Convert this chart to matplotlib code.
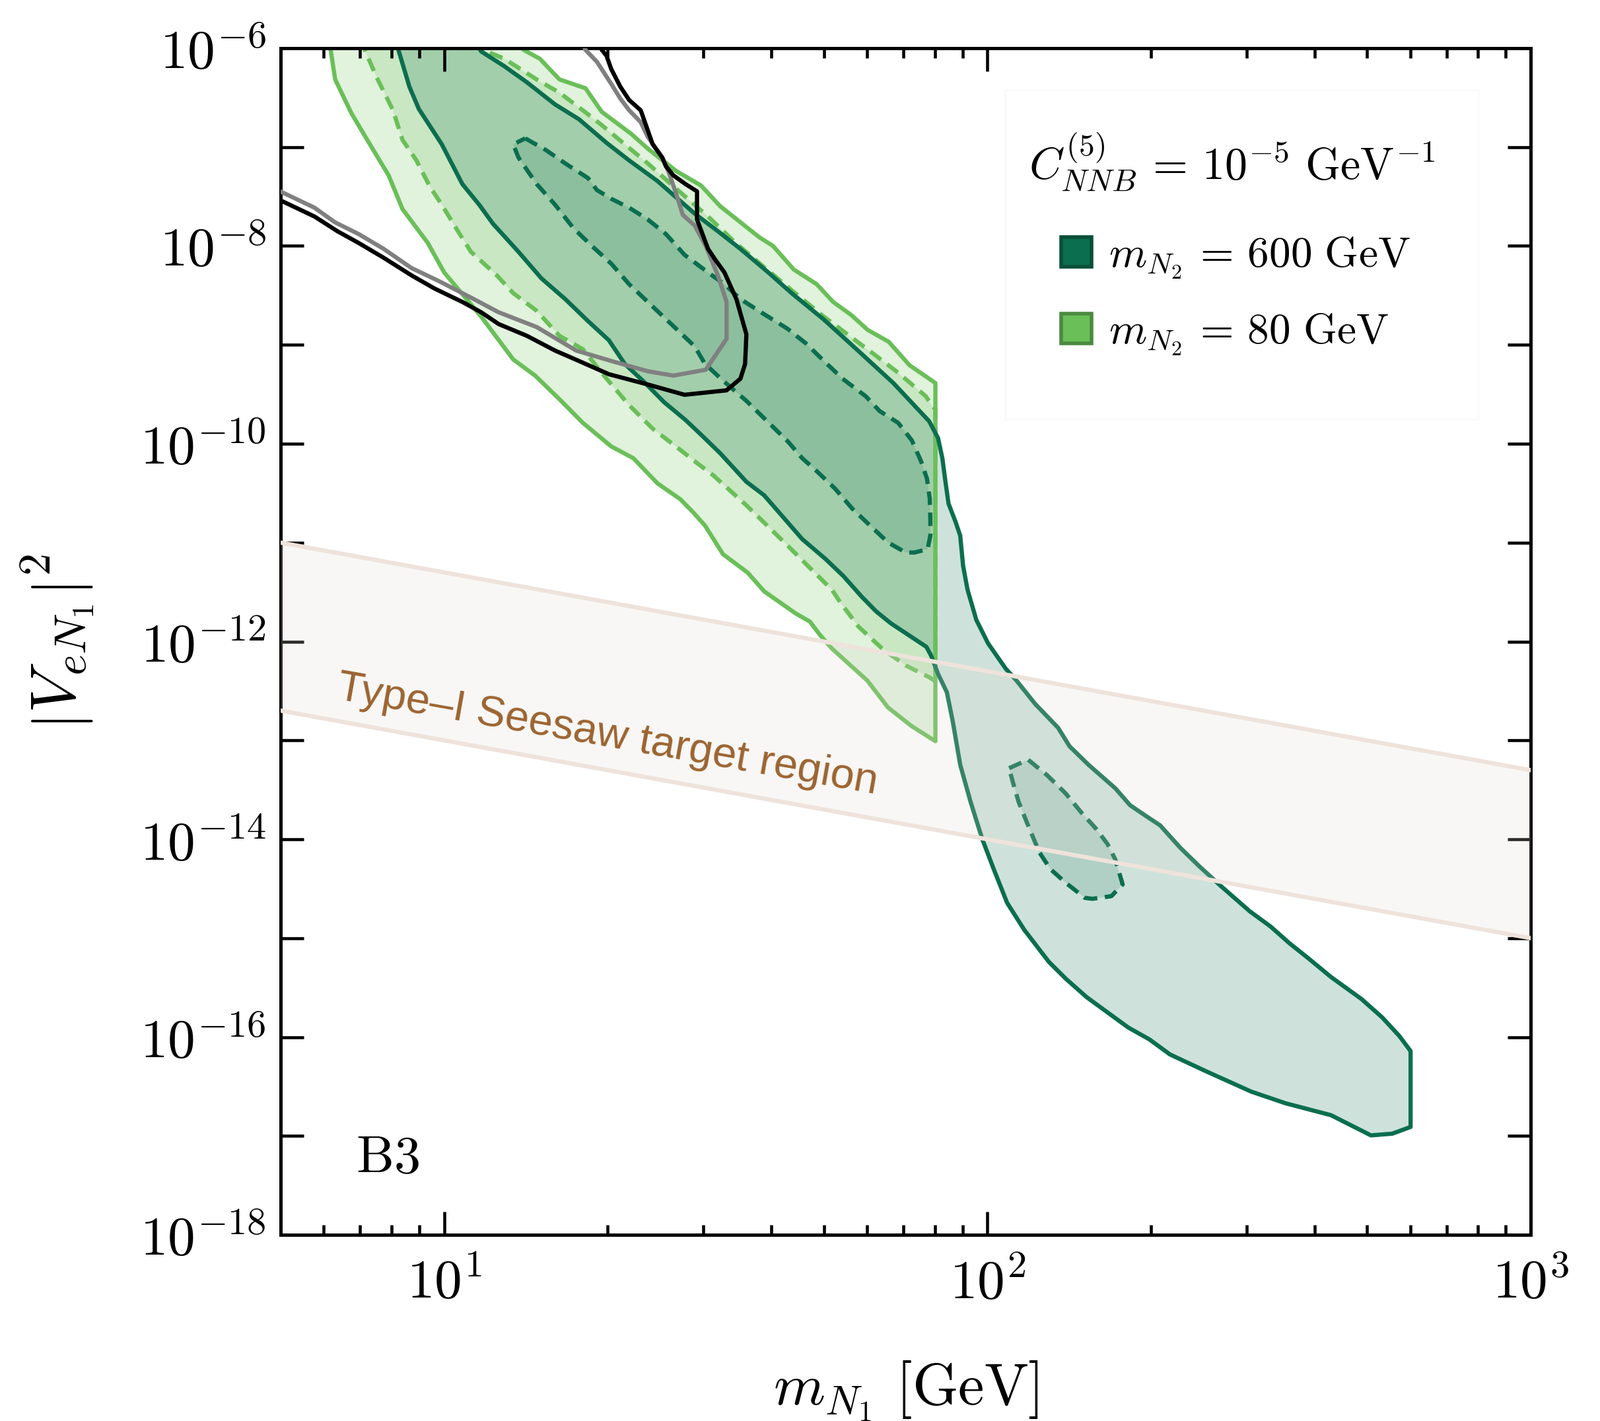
import numpy as np
import matplotlib
matplotlib.use('Agg')
import matplotlib.pyplot as plt
from matplotlib.patches import Patch, Rectangle
from matplotlib.ticker import FixedLocator, FuncFormatter, NullLocator, NullFormatter

plt.rcParams['mathtext.fontset'] = 'cm'
plt.rcParams['font.family'] = ['DejaVu Serif']

# ---------------- data (m_N1 in GeV, log10 |V_eN1|^2) ----------------
# m_N2 = 80 GeV, outer (solid) contour
m80_out_x = [6.1, 6.18, 6.30, 6.75, 7.38, 7.90, 8.38, 9.33, 10.0, 11.7, 13.4, 14.7, 16.3, 18.0,
             20.3, 22.3, 24.7, 27.2, 28.7, 30.2, 32.6, 36.2, 38.8, 44.3, 47.1, 49.2, 51.7, 60.1,
             65.6, 72.5, 80.2, 80.2, 71.9, 65.8, 60.2, 56.2, 52.0, 48.5, 44.0, 40.3, 38.0, 32.2,
             29.7, 26.7, 23.7, 22.1, 19.5, 18.2, 16.3, 15.0, 14.0, 13.6]
m80_out_ly = [-5.9, -6.017, -6.316, -6.659, -7.016, -7.285, -7.627, -7.970, -8.268, -8.715,
              -9.148, -9.311, -9.550, -9.789, -10.027, -10.147, -10.401, -10.561, -10.691,
              -10.827, -11.117, -11.304, -11.492, -11.714, -11.798, -11.935, -12.070, -12.395,
              -12.667, -12.855, -13.008, -9.386, -9.207, -8.969, -8.849, -8.700, -8.566, -8.387,
              -8.238, -8.000, -7.911, -7.597, -7.389, -7.240, -7.016, -6.867, -6.644, -6.405,
              -6.316, -6.107, -6.017, -5.9]

# m_N2 = 80 GeV, inner (dashed) contour
m80_in_x = [7.1, 7.16, 7.52, 8.05, 8.38, 8.89, 9.42, 9.90, 10.6, 11.2, 12.0, 12.5, 13.4, 14.8,
            16.3, 18.0, 19.9, 21.9, 24.2, 26.7, 28.9, 31.3, 33.8, 36.0, 39.3, 42.9, 47.4, 51.7,
            53.7, 57.9, 64.0, 70.7, 78.1, 80.2, 80.2, 79.3, 77.0, 68.5, 62.1, 56.2, 50.0, 43.6,
            38.7, 34.4, 30.6, 26.7, 23.7, 21.5, 19.5, 18.0, 16.3, 14.8, 12.9, 11.8, 11.3]
m80_in_ly = [-5.9, -6.033, -6.300, -6.628, -6.927, -7.135, -7.404, -7.583, -7.851, -8.059,
             -8.209, -8.298, -8.477, -8.656, -8.909, -9.044, -9.342, -9.610, -9.848, -10.027,
             -10.176, -10.321, -10.487, -10.623, -10.827, -11.032, -11.270, -11.475, -11.611,
             -11.850, -12.071, -12.242, -12.361, -12.40, -9.65, -9.625, -9.520, -9.282, -9.103,
             -8.924, -8.715, -8.447, -8.209, -7.970, -7.702, -7.418, -7.165, -6.972, -6.778,
             -6.628, -6.450, -6.316, -6.107, -6.017, -5.9]

# m_N2 = 600 GeV, outer (solid) contour
m600_out_x = [8.0, 8.13, 8.63, 8.98, 9.90, 10.8, 11.6, 12.3, 13.7, 15.1, 16.7, 18.4, 20.1, 21.5,
              23.3, 25.4, 27.8, 29.7, 32.2, 36.0, 38.8, 41.8, 45.6, 50.4, 54.3, 58.6, 62.4, 66.4,
              71.6, 77.2, 78.7, 81.1, 84.2, 86.3, 89.1, 93.1, 97.8, 102.7, 108.7, 116.9, 129.7,
              139.4, 152.3, 166.4, 181.7, 198.6, 216.8, 252.6, 278, 306, 354, 429, 508, 556, 601,
              601, 573, 533, 488, 429, 390, 360, 332, 304, 269, 245, 226, 208, 195, 183, 172,
              153.5, 141.6, 134.9, 122.5, 113.1, 108.1, 100.3, 95.4, 91.9, 90.2, 89.1, 87.4, 84.8,
              83.7, 82.6, 81.1, 78.1, 67.1, 57.4, 50.0, 43.6, 39.5, 35.1, 31.9, 28.9, 24.7, 21.9,
              19.9, 17.7, 16.0, 14.2, 12.9, 11.7, 11.3]
m600_out_ly = [-5.9, -5.913, -6.390, -6.614, -6.972, -7.374, -7.583, -7.776, -8.059, -8.328,
               -8.537, -8.760, -8.954, -9.193, -9.372, -9.580, -9.759, -9.908, -10.095, -10.385,
               -10.521, -10.725, -10.964, -11.168, -11.338, -11.543, -11.696, -11.816, -11.935,
               -12.054, -12.139, -12.327, -12.514, -12.803, -13.247, -13.621, -13.996, -14.302,
               -14.643, -14.916, -15.239, -15.410, -15.597, -15.751, -15.904, -16.023, -16.176,
               -16.346, -16.449, -16.552, -16.670, -16.790, -16.994, -16.977, -16.909, -16.142,
               -15.989, -15.802, -15.615, -15.393, -15.205, -15.053, -14.882, -14.728, -14.473,
               -14.269, -14.081, -13.860, -13.758, -13.655, -13.485, -13.247, -13.059, -12.872,
               -12.633, -12.395, -12.276, -12.020, -11.782, -11.475, -11.236, -10.930, -10.793,
               -10.606, -10.385, -10.146, -9.942, -9.772, -9.386, -9.044, -8.745, -8.477, -8.268,
               -8.030, -7.851, -7.672, -7.344, -7.135, -6.957, -6.718, -6.569, -6.345, -6.182,
               -6.033, -5.9]

# m_N2 = 600 GeV, inner (dashed) contour, low-mass lobe
m600_in_x = [14.1, 15.4, 16.7, 18.4, 19.1, 20.3, 21.9, 23.7, 25.6, 27.7, 30.6, 32.8, 35.1, 38.7,
             42.8, 46.3, 50.0, 54.1, 59.7, 63.3, 68.5, 72.6, 75.5, 77.4, 78.3, 78.5, 78.5, 77.6,
             73.4, 70.7, 65.6, 60.8, 56.4, 52.4, 48.6, 45.6, 42.9, 39.3, 36.0, 32.6, 30.2, 28.9,
             26.7, 23.7, 21.9, 20.3, 18.7, 17.3, 16.0, 14.8, 13.7, 13.4]
m600_in_ly = [-6.912, -7.031, -7.165, -7.314, -7.434, -7.523, -7.613, -7.732, -7.880, -8.090,
              -8.268, -8.387, -8.537, -8.686, -8.835, -8.984, -9.163, -9.342, -9.520, -9.669,
              -9.789, -9.967, -10.180, -10.354, -10.554, -10.759, -10.930, -11.066, -11.100,
              -11.100, -10.998, -10.827, -10.657, -10.453, -10.282, -10.146, -9.976, -9.772,
              -9.567, -9.362, -9.192, -9.014, -8.835, -8.566, -8.387, -8.179, -8.000, -7.821,
              -7.583, -7.374, -7.106, -6.972]

# m_N2 = 600 GeV, inner (dashed) contour, high-mass island
m600_isl_x = [109.6, 118.8, 128.6, 139.3, 148.6, 158.5, 166.3, 171.8, 177.4, 169.1, 156.0, 151.1,
              139.3, 130.6, 124.6, 118.8, 114.1, 111.3]
m600_isl_ly = [-13.281, -13.195, -13.349, -13.536, -13.724, -13.894, -14.047, -14.200, -14.456,
               -14.575, -14.602, -14.592, -14.439, -14.302, -14.132, -13.860, -13.621, -13.417]

# existing bounds (black and grey curves)
black_x = [5.0, 5.77, 6.36, 6.96, 7.74, 8.71, 9.61, 10.8, 11.7, 12.6, 14.2, 16.0, 17.7, 20.1,
           23.7, 27.7, 33.1, 35.1, 35.8, 36.0, 34.5, 32.8, 31.5, 30.6, 29.2, 29.2, 27.8, 26.4,
           25.6, 25.2, 24.2, 23.0, 21.9, 21.1, 20.3, 19.9, 19.5, 19.2]
black_ly = [-7.54, -7.702, -7.851, -7.970, -8.120, -8.298, -8.432, -8.566, -8.671, -8.790,
            -8.909, -9.058, -9.163, -9.297, -9.401, -9.505, -9.460, -9.342, -9.193, -8.894,
            -8.537, -8.268, -8.134, -8.030, -7.732, -7.448, -7.374, -7.285, -7.195, -7.106,
            -6.972, -6.628, -6.524, -6.390, -6.211, -6.077, -6.017, -5.9]
grey_x = [5.0, 5.77, 6.30, 6.96, 7.74, 8.71, 9.80, 11.2, 12.6, 14.8, 17.5, 20.3, 23.7, 26.4,
          30.3, 33.1, 33.1, 31.9, 30.3, 28.9, 27.5, 26.7, 25.9, 25.2, 23.7, 23.0, 21.9, 21.1,
          20.3, 19.1, 18.2, 17.8]
grey_ly = [-7.45, -7.613, -7.762, -7.880, -8.030, -8.224, -8.358, -8.522, -8.671, -8.820,
           -9.058, -9.163, -9.267, -9.311, -9.252, -8.939, -8.566, -8.298, -8.000, -7.792,
           -7.687, -7.463, -7.255, -7.106, -6.897, -6.748, -6.628, -6.510, -6.361, -6.137,
           -6.017, -5.9]

# Type-I seesaw band: |V|^2 = m_nu / m_N
seesaw_mnu = [1e-12, 5e-11]  # GeV
mN_range = [5.0, 1000.0]

DARK = '#0b6e4f'
LIGHT = '#6abf59'

fig = plt.figure(figsize=(12.115, 10.76), dpi=200)
ax = fig.add_axes([0.1754, 0.1310, 0.7813, 0.8351])
ax.set_xscale('log')
ax.set_yscale('log')


def arr(xs, lys):
    return np.asarray(xs, float), 10.0 ** np.asarray(lys, float)


def closed(x, y):
    return np.append(x, x[0]), np.append(y, y[0])


dash = (0, (3.2, 1.8))
lw = 2.3

x, y = arr(m80_out_x, m80_out_ly)
ax.fill(x, y, facecolor=LIGHT, alpha=0.2, lw=0, zorder=1.0)
ax.plot(*closed(x, y), color=LIGHT, lw=lw, zorder=2.0)

x, y = arr(m80_in_x, m80_in_ly)
ax.fill(x, y, facecolor=LIGHT, alpha=0.2, lw=0, zorder=1.1)
ax.plot(*closed(x, y), color=LIGHT, lw=lw, ls=dash, zorder=2.1)

x, y = arr(m600_out_x, m600_out_ly)
ax.fill(x, y, facecolor=DARK, alpha=0.2, lw=0, zorder=1.2)
ax.plot(*closed(x, y), color=DARK, lw=lw, zorder=2.2)

for xs, lys in [(m600_in_x, m600_in_ly), (m600_isl_x, m600_isl_ly)]:
    x, y = arr(xs, lys)
    ax.fill(x, y, facecolor=DARK, alpha=0.15, lw=0, zorder=1.3)
    ax.plot(*closed(x, y), color=DARK, lw=lw, ls=dash, zorder=2.3)

x, y = arr(grey_x, grey_ly)
ax.plot(x, y, color='#808080', lw=lw, zorder=3.0)
x, y = arr(black_x, black_ly)
ax.plot(x, y, color='black', lw=lw, zorder=3.1)

mN = np.logspace(np.log10(mN_range[0]), np.log10(mN_range[1]), 60)
lo = seesaw_mnu[0] / mN
hi = seesaw_mnu[1] / mN
ax.fill_between(mN, lo, hi, facecolor='#e0d8cf', alpha=0.2, lw=0, zorder=4)
ax.plot(mN, lo, color='#eee3dc', lw=2.3, zorder=4.1)
ax.plot(mN, hi, color='#eee3dc', lw=2.3, zorder=4.1)

ax.text(20.0, 1.12e-13, 'Type\u2013I Seesaw target region', rotation=-10,
        rotation_mode='anchor', ha='center', va='center', color='#9c6431',
        fontsize=23.5, family='Liberation Sans', zorder=5)

ax.text(0.0856, 0.0646, r'$\mathrm{B3}$', transform=ax.transAxes, fontsize=29,
        ha='center', va='center', zorder=5)

ax.set_xlim(5, 1000)
ax.set_ylim(1e-18, 1e-6)

ax.xaxis.set_major_locator(FixedLocator([10, 100, 1000]))
ax.xaxis.set_minor_locator(FixedLocator([m * 10.0 ** e for e in range(0, 3) for m in range(2, 10)]))
ax.xaxis.set_major_formatter(FuncFormatter(lambda v, p: r'$10^{%d}$' % round(np.log10(v))))
ax.xaxis.set_minor_formatter(NullFormatter())

ax.yaxis.set_major_locator(FixedLocator(10.0 ** np.arange(-18, -5)))
ax.yaxis.set_minor_locator(NullLocator())


def yfmt(v, p):
    e = int(round(np.log10(v)))
    return r'$10^{%d}$' % e if e % 2 == 0 else ''


ax.yaxis.set_major_formatter(FuncFormatter(yfmt))

for s in ax.spines.values():
    s.set_linewidth(1.8)
ax.tick_params(which='both', direction='in', top=True, right=True, width=1.65)
ax.tick_params(which='major', length=12.5, labelsize=30)
ax.tick_params(axis='x', which='major', pad=12)
ax.tick_params(axis='y', which='major', pad=8)
ax.tick_params(which='minor', length=5.5)

ax.set_xlabel(r'$m_{N_1}\ [\mathrm{GeV}]$', fontsize=32, labelpad=27)
ax.set_ylabel(r'$\left|V_{eN_1}\right|^2$', fontsize=35, labelpad=24)

# legend: faint frame, title and entries
ax.add_patch(Rectangle((0.5796, 0.687), 0.3784, 0.278, transform=ax.transAxes,
                       facecolor='white', edgecolor='#fafafa', lw=1.0, zorder=5.5))
ax.text(0.761, 0.9046, r'$C^{(5)}_{NNB}\,=\,10^{-5}\ \mathrm{GeV}^{-1}$',
        transform=ax.transAxes, fontsize=24.5, ha='center', va='center', zorder=7)

handles = [Patch(facecolor=DARK, edgecolor='#0a4f38', lw=2.0),
           Patch(facecolor=LIGHT, edgecolor='#4b8b40', lw=2.0)]
labels = [r'$m_{N_2}\,=\,600\ \mathrm{GeV}$', r'$m_{N_2}\,=\,80\ \mathrm{GeV}$']
leg = ax.legend(handles, labels, loc='upper left', bbox_to_anchor=(0.6245, 0.8434),
                fontsize=23.5, frameon=False, handlelength=0.7, handleheight=0.7,
                handletextpad=0.4, labelspacing=0.69, borderpad=0.0, borderaxespad=0.0)
leg.set_zorder(7)

fig.savefig('out.png', dpi=200)
